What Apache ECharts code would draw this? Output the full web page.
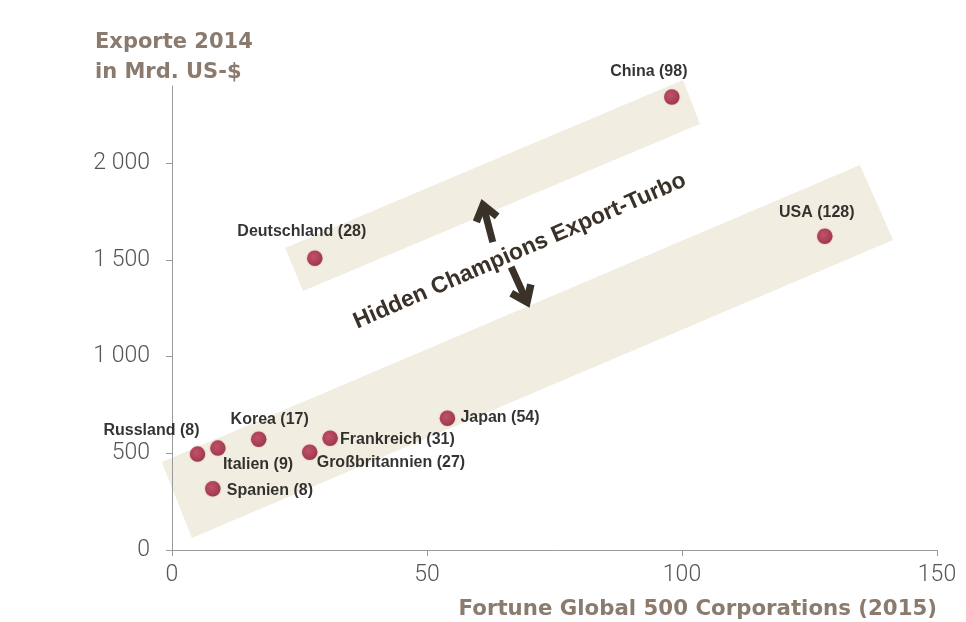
<!DOCTYPE html>
<html>
<head>
<meta charset="utf-8">
<script src="https://cdn.jsdelivr.net/npm/echarts@6/dist/echarts.min.js"></script>
<style>
html,body{margin:0;padding:0;background:#fff;}
#chart{width:966px;height:622px;}
</style>
</head>
<body>
<div id="chart"></div>
<script>
// ---- data ----
const countries = ['China', 'USA', 'Deutschland', 'Japan', 'Frankreich', 'Großbritannien', 'Korea', 'Italien', 'Russland', 'Spanien'];
const fortuneCount = [98, 128, 28, 54, 31, 27, 17, 9, 8, 8];
const xPlotted = [98, 128, 28, 54, 31, 27, 17, 9, 5, 8];
const exports2014 = [2343, 1623, 1509, 682, 578, 506, 573, 527, 496, 317];
const xTicks = [0, 50, 100, 150];
const yTicks = [0, 500, 1000, 1500, 2000];
const yTitle = 'Exporte 2014\nin Mrd. US-$';
const xTitle = 'Fortune Global 500 Corporations (2015)';
const annotationText = 'Hidden Champions Export-Turbo';

// annotation geometry in data units
const upperBand = [[22.2, 1562], [100.2, 2431], [103.5, 2203], [25.7, 1340]];
const lowerBand = [[-2.0, 455], [134.9, 1991], [141.4, 1603], [3.9, 62]];
const arrowUp = [[62.9, 1593], [61.0, 1784]];
const arrowDown = [[66.5, 1464], [69.6, 1283]];
const annotationAnchor = [68.2, 1546];

// label placement (pixel offsets from point centre)
const labelPlacement = {
  'China': {align: 'center', offset: [-23, -25]},
  'USA': {align: 'center', offset: [-8, -24]},
  'Deutschland': {align: 'center', offset: [-13, -27]},
  'Japan': {align: 'left', offset: [13, -1]},
  'Frankreich': {align: 'left', offset: [10, 1]},
  'Großbritannien': {align: 'left', offset: [7, 10]},
  'Korea': {align: 'center', offset: [11, -20]},
  'Italien': {align: 'left', offset: [5, 16]},
  'Russland': {align: 'right', offset: [2, -24]},
  'Spanien': {align: 'left', offset: [14, 2]}
};

const chart = echarts.init(document.getElementById('chart'));
const axisGrey = '#9a9a9a';
const titleColor = '#8a7b6e';
const darkText = '#3a3129';

function fmtNum(v) {
  if (v >= 1000) return Math.floor(v / 1000) + ' ' + String(v % 1000).padStart(3, '0');
  return String(v);
}

function arrowShape(api, seg) {
  const a = api.coord(seg[0]);
  const b = api.coord(seg[1]);
  const dx = b[0] - a[0], dy = b[1] - a[1];
  const len = Math.sqrt(dx * dx + dy * dy);
  const ux = dx / len, uy = dy / len;
  const wing = 18, ang = 0.64;
  const c = Math.cos(ang), s = Math.sin(ang);
  const w1 = [b[0] - wing * (ux * c - uy * s), b[1] - wing * (uy * c + ux * s)];
  const w2 = [b[0] - wing * (ux * c + uy * s), b[1] - wing * (uy * c - ux * s)];
  return [
    {type: 'polyline', shape: {points: [a, [b[0] - ux * 3, b[1] - uy * 3]]}, style: {stroke: darkText, lineWidth: 7, fill: null}},
    {type: 'polyline', shape: {points: [w1, b, w2]}, style: {stroke: darkText, lineWidth: 7.5, fill: null, lineJoin: 'miter', lineCap: 'butt'}}
  ];
}

const option = {
  animation: false,
  backgroundColor: '#ffffff',
  grid: {left: 172, right: 29, top: 86, bottom: 72, containLabel: false},
  xAxis: {
    type: 'value', min: 0, max: 150, interval: 50, z: 3,
    splitLine: {show: false},
    axisLine: {show: true, lineStyle: {color: axisGrey, width: 1}},
    axisTick: {show: true, length: 6, lineStyle: {color: axisGrey}},
    axisLabel: {
      margin: 14, color: '#555', fontFamily: 'Roboto', fontWeight: 300, fontSize: 23,
      customValues: xTicks
    }
  },
  yAxis: {
    type: 'value', min: 0, max: 2400, interval: 500, z: 3,
    splitLine: {show: false},
    axisLine: {show: true, lineStyle: {color: axisGrey, width: 1}},
    axisTick: {show: true, length: 6, lineStyle: {color: axisGrey}, customValues: yTicks},
    axisLabel: {
      margin: 22, color: '#555', fontFamily: 'Roboto', fontWeight: 300, fontSize: 23,
      customValues: yTicks, formatter: fmtNum
    }
  },
  graphic: [
    {type: 'text', x: 95, y: 28, z: 10, style: {text: yTitle, font: '700 21px "DejaVu Sans"', fill: titleColor, lineHeight: 30, align: 'left', verticalAlign: 'top'}},
    {type: 'text', x: 937, y: 609, z: 10, style: {text: xTitle, font: '700 21.3px "DejaVu Sans"', fill: titleColor, align: 'right', verticalAlign: 'middle'}}
  ],
  series: [
    {
      type: 'custom', z: 1, clip: false, silent: true,
      data: [[0, 0]],
      encode: {x: 0, y: 1},
      renderItem: function (params, api) {
        const children = [];
        [upperBand, lowerBand].forEach(function (band) {
          children.push({type: 'polygon', shape: {points: band.map(function (p) { return api.coord(p); })}, style: {fill: '#f1ede1'}});
        });
        arrowShape(api, arrowUp).forEach(function (e) { children.push(e); });
        arrowShape(api, arrowDown).forEach(function (e) { children.push(e); });
        const t = api.coord(annotationAnchor);
        children.push({type: 'text', x: t[0], y: t[1], rotation: 0.41,
          style: {text: annotationText, font: '700 23px "Liberation Sans", Arial, sans-serif', fill: darkText, align: 'center', verticalAlign: 'middle'}});
        return {type: 'group', children: children};
      }
    },
    {
      type: 'scatter', z: 5, symbolSize: 15.5,
      itemStyle: {
        color: {type: 'radial', x: 0.42, y: 0.4, r: 0.6, colorStops: [{offset: 0, color: '#bd3a55'}, {offset: 0.7, color: '#a2233f'}, {offset: 1, color: '#8a1a33'}]},
        shadowColor: 'rgba(120,20,40,0.35)', shadowBlur: 2
      },
      data: countries.map(function (c, i) {
        const lp = labelPlacement[c];
        return {
          name: c, value: [xPlotted[i], exports2014[i]],
          label: {show: true, position: 'inside', align: lp.align, verticalAlign: 'middle', offset: lp.offset,
            formatter: c + ' (' + fortuneCount[i] + ')',
            color: '#000', textBorderWidth: 0, textBorderColor: 'transparent', textShadowBlur: 0,
            fontSize: 16, fontWeight: 'bold', fontFamily: '"Liberation Sans", Arial, sans-serif'}
        };
      })
    }
  ]
};
chart.setOption(option);
</script>
</body>
</html>
